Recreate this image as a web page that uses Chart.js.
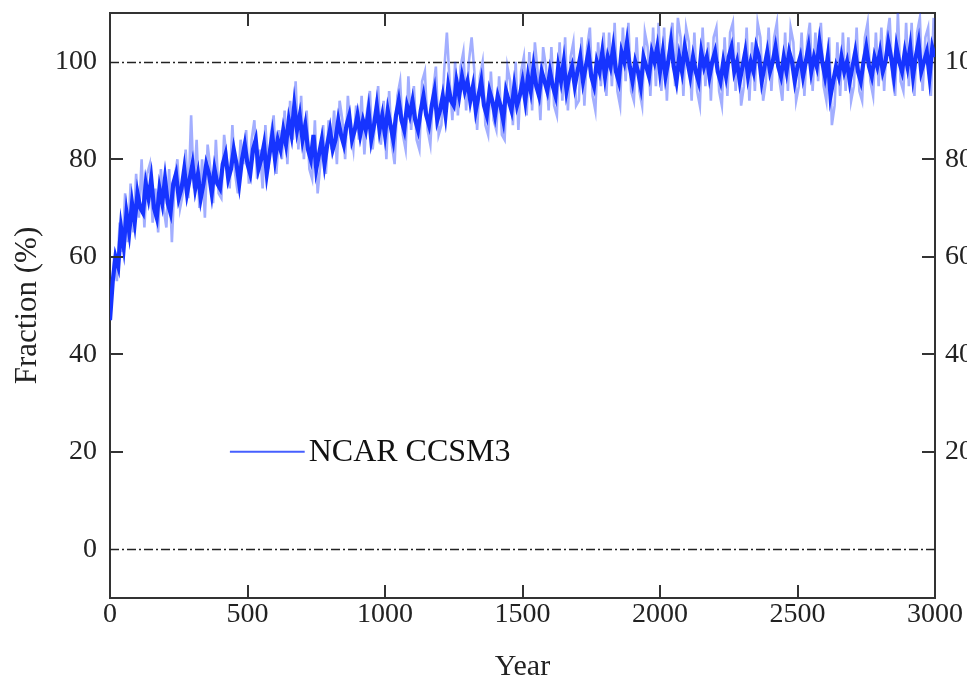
<!DOCTYPE html>
<html><head><meta charset="utf-8">
<script src="https://cdn.jsdelivr.net/npm/chart.js@4"></script>
<style>html,body{margin:0;padding:0;background:#fff;overflow:hidden}canvas{display:block}</style>
</head><body>
<canvas id="c" width="967" height="685"></canvas>
<script>
// ---- data ----
const coreYears = Array.from({length: 301}, (_, i) => i * 10);
const coreValues = [
  47,55,60,58,66,62,69,65,71,67,
  73,70,69,75,72,76,70,68,74,71,
  76,71,69,75,77,72,74,78,73,76,
  79,74,77,72,75,79,77,73,78,75,
  74,79,81,76,78,82,79,75,80,83,
  79,77,82,84,78,80,83,77,81,85,
  80,84,82,86,83,88,85,91,86,89,
  84,87,82,80,85,78,81,84,79,83,
  86,82,84,88,85,83,87,89,84,86,
  89,85,88,86,90,84,87,91,86,89,
  85,90,87,84,89,92,88,86,91,89,
  92,88,86,90,93,89,87,91,94,88,
  90,93,89,95,92,91,96,93,97,94,
  96,92,95,90,93,96,91,89,94,92,
  89,93,91,88,94,92,90,95,91,93,
  96,92,97,94,99,95,93,98,96,94,
  98,95,93,99,96,100,94,97,99,95,
  98,101,96,99,102,97,95,100,98,102,
  97,101,99,103,98,96,102,100,104,99,
  96,100,98,95,101,99,97,102,100,103,
  98,102,97,100,104,99,96,101,98,103,
  100,97,101,98,96,102,99,101,97,100,
  102,98,96,100,97,101,103,98,100,96,
  99,102,97,100,98,103,101,96,99,102,
  98,100,103,99,97,101,98,102,100,96,
  99,101,97,100,103,98,101,99,104,100,
  97,101,93,96,99,97,101,98,100,96,
  99,102,98,96,100,103,99,97,101,99,
  102,98,100,104,101,97,103,100,98,102,
  99,103,97,101,104,98,100,102,97,103,
  101
];
const spreadYears = Array.from({length: 300}, (_, i) => i * 10 + 5);
const spreadValues = [
  51,60,55,67,61,73,63,75,65,77,
  68,80,66,77,79,67,74,65,78,70,
  66,78,63,76,80,70,73,82,72,89,
  74,84,70,80,68,83,78,71,84,73,
  72,85,80,74,87,77,73,84,79,86,
  75,84,88,76,82,74,87,78,85,89,
  77,86,80,90,79,92,84,96,82,93,
  80,90,78,76,88,73,79,87,77,88,
  82,90,79,92,88,80,93,86,82,91,
  84,93,81,90,94,82,88,95,83,92,
  80,94,83,79,93,96,85,82,97,86,
  95,84,82,96,98,86,83,94,99,85,
  87,98,106,96,88,100,89,99,102,90,
  100,105,98,86,97,100,87,85,98,88,
  86,97,85,84,99,96,87,100,86,98,
  101,89,102,90,104,98,88,103,99,90,
  103,91,89,104,92,105,90,101,104,91,
  92,105,91,103,107,93,90,104,95,106,
  93,106,95,108,94,91,107,96,108,94,
  92,105,94,91,106,103,93,107,95,108,
  94,107,92,104,108,95,109,105,93,107,
  104,92,106,94,91,107,95,104,92,105,
  107,94,91,105,93,106,108,94,104,91,
  95,107,92,104,94,108,105,92,96,107,
  94,105,108,96,92,106,94,107,104,92,
  95,106,93,104,108,94,106,96,108,95,
  92,105,87,91,104,93,106,94,105,92,
  95,107,94,92,105,108,96,93,106,95,
  107,94,105,109,97,93,110,96,94,108,
  95,108,93,106,109,94,105,107,93,109
];
const xTicks = [0, 500, 1000, 1500, 2000, 2500, 3000];
const yTicks = [0, 20, 40, 60, 80, 100];
const refLines = [0, 100];
const seriesName = 'NCAR CCSM3';
const xTitle = 'Year';
const yTitle = 'Fraction (%)';

// ---- styles ----
const FONT = '"Liberation Serif", "Times New Roman", serif';
const BLUE = 'rgb(22,52,255)';
const BLUE_LIGHT = 'rgba(22,52,255,0.4)';
const FRAME = '#333';

const decor = {
  id: 'decor',
  beforeDatasetsDraw(chart) {
    const {ctx, chartArea: a, scales: {y}} = chart;
    ctx.save();
    ctx.strokeStyle = '#222';
    ctx.lineWidth = 1.6;
    ctx.setLineDash([9, 3, 2, 3]);
    refLines.forEach(v => {
      const py = Math.round(y.getPixelForValue(v)) + 0.5;
      ctx.beginPath(); ctx.moveTo(a.left, py); ctx.lineTo(a.right, py); ctx.stroke();
    });
    ctx.restore();
  },
  afterDatasetsDraw(chart) {
    const {ctx, chartArea: a, scales: {x, y}} = chart;
    const L = 13;
    ctx.save();
    ctx.strokeStyle = FRAME;
    ctx.lineWidth = 2;
    xTicks.forEach(v => {
      if (v <= x.min || v >= x.max) return;
      const px = Math.round(x.getPixelForValue(v));
      ctx.beginPath(); ctx.moveTo(px, a.bottom); ctx.lineTo(px, a.bottom - L); ctx.stroke();
      ctx.beginPath(); ctx.moveTo(px, a.top); ctx.lineTo(px, a.top + L); ctx.stroke();
    });
    yTicks.forEach(v => {
      if (refLines.includes(v)) return;
      const py = Math.round(y.getPixelForValue(v));
      ctx.beginPath(); ctx.moveTo(a.left, py); ctx.lineTo(a.left + L, py); ctx.stroke();
      ctx.beginPath(); ctx.moveTo(a.right, py); ctx.lineTo(a.right - L, py); ctx.stroke();
    });
    ctx.restore();
  },
  afterDraw(chart) {
    const {ctx, scales: {x, y}} = chart;
    const lx0 = x.getPixelForValue(436), lx1 = x.getPixelForValue(708);
    const ly = y.getPixelForValue(20);
    ctx.save();
    ctx.strokeStyle = 'rgb(70,95,255)';
    ctx.lineWidth = 2;
    ctx.beginPath(); ctx.moveTo(lx0, ly); ctx.lineTo(lx1, ly); ctx.stroke();
    ctx.fillStyle = '#111';
    ctx.font = '32px ' + FONT;
    ctx.textBaseline = 'middle';
    ctx.textAlign = 'left';
    ctx.fillText(seriesName, lx1 + 4, ly + 1);
    ctx.restore();
  }
};

const tickFont = {family: FONT, size: 28};
const border = {display: true, color: FRAME, width: 2};
const noGrid = {display: true, drawOnChartArea: false, drawTicks: false};
const plain = v => String(v);
const noPad = s => { s.paddingTop = 0; s.paddingBottom = 0; s.paddingLeft = 0; s.paddingRight = 0; };

new Chart(document.getElementById('c'), {
  type: 'line',
  data: {
    datasets: [
      {label: seriesName, data: coreYears.map((t, i) => ({x: t, y: coreValues[i]})),
       borderColor: BLUE, borderWidth: 4.2, pointRadius: 0, tension: 0, order: 1},
      {label: seriesName + ' spread', data: spreadYears.map((t, i) => ({x: t, y: spreadValues[i]})),
       borderColor: BLUE_LIGHT, borderWidth: 2.6, pointRadius: 0, tension: 0, order: 2}
    ]
  },
  options: {
    responsive: false,
    animation: false,
    devicePixelRatio: 1,
    layout: {padding: 0},
    plugins: {legend: {display: false}, tooltip: {enabled: false}, title: {display: false}},
    scales: {
      x: {
        type: 'linear', position: 'bottom', min: 0, max: 3000,
        afterBuildTicks: s => { s.ticks = xTicks.map(v => ({value: v})); },
        ticks: {font: tickFont, color: '#222', padding: 0, maxRotation: 0, autoSkip: false, callback: plain},
        grid: noGrid, border,
        title: {display: true, text: xTitle, font: {family: FONT, size: 30}, color: '#222', padding: {top: 0, bottom: 0}},
        afterFit: s => { s.height = 87; noPad(s); }
      },
      x2: {
        type: 'linear', position: 'top', min: 0, max: 3000,
        ticks: {display: false}, grid: noGrid, border,
        afterFit: s => { s.height = 13; noPad(s); }
      },
      y: {
        type: 'linear', position: 'left', min: -10, max: 110,
        afterBuildTicks: s => { s.ticks = yTicks.map(v => ({value: v})); },
        ticks: {font: tickFont, color: '#222', padding: 13, callback: plain},
        grid: noGrid, border,
        title: {display: true, text: yTitle, font: {family: FONT, size: 31}, color: '#222', padding: {top: 9, bottom: 0}},
        afterFit: s => { s.width = 110; noPad(s); }
      },
      y2: {
        type: 'linear', position: 'right', min: -10, max: 110,
        afterBuildTicks: s => { s.ticks = yTicks.filter(v => v > 0).map(v => ({value: v})); },
        ticks: {font: tickFont, color: '#222', padding: 10, callback: plain},
        grid: noGrid, border,
        afterFit: s => { s.width = 32; noPad(s); }
      }
    }
  },
  plugins: [decor]
});
</script>
</body></html>
